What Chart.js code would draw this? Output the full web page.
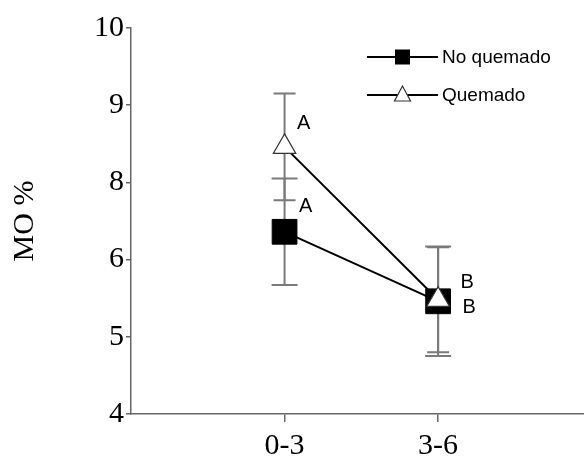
<!DOCTYPE html>
<html>
<head>
<meta charset="utf-8">
<script src="https://cdn.jsdelivr.net/npm/chart.js@4.4.0/dist/chart.umd.min.js"></script>
<style>
  html, body { margin: 0; padding: 0; background: #fff; overflow: hidden; }
  #wrap { width: 584px; height: 459px; position: relative; }
  canvas { display: block; }
</style>
</head>
<body>
<div id="wrap"><canvas id="chart"></canvas></div>
<script>
// Data (y in axis units, 6 evenly spaced ticks)
const depths = ['0-3', '3-6'];
const noQuemado = [6.36, 5.46];
const noQuemadoErr = [0.69, 0.71];
const quemado = [7.46, 5.48];
const quemadoErr = [0.69, 0.68];
const yTickLabels = ['4', '5', '6', '8', '9', '10']; // labels as printed on the axis
const sigNoQuemado = ['A', 'B'];
const sigQuemado = ['A', 'B'];

const serif = '"Liberation Serif", "Times New Roman", serif';
const sans = '"Liberation Sans", Arial, sans-serif';

// error bars under the points
const errorBars = {
  id: 'errorBars',
  beforeDatasetsDraw(chart) {
    const { ctx, scales: { x, y } } = chart;
    const sets = [[noQuemado, noQuemadoErr, 13], [quemado, quemadoErr, 11]];
    ctx.save();
    ctx.strokeStyle = '#7a7a7a';
    ctx.lineWidth = 2;
    sets.forEach(([vals, errs, half]) => {
      vals.forEach((v, i) => {
        const px = x.getPixelForValue(i + 1);
        const top = y.getPixelForValue(v + errs[i]);
        const bot = y.getPixelForValue(v - errs[i]);
        ctx.beginPath();
        ctx.moveTo(px, top); ctx.lineTo(px, bot);
        ctx.moveTo(px - half, top); ctx.lineTo(px + half, top);
        ctx.moveTo(px - half, bot); ctx.lineTo(px + half, bot);
        ctx.stroke();
      });
    });
    ctx.restore();
  }
};

// significance letters next to the points
const letters = {
  id: 'letters',
  afterDatasetsDraw(chart) {
    const { ctx, scales: { x, y } } = chart;
    ctx.save();
    ctx.font = '20px ' + sans;
    ctx.fillStyle = '#000';
    ctx.textAlign = 'center';
    ctx.textBaseline = 'middle';
    // offsets from the point, per depth
    const qOff = [[19, -23], [29, -17]];
    const nOff = [[21, -25], [31, 6]];
    quemado.forEach((v, i) => {
      ctx.fillText(sigQuemado[i], x.getPixelForValue(i + 1) + qOff[i][0], y.getPixelForValue(v) + qOff[i][1]);
    });
    noQuemado.forEach((v, i) => {
      ctx.fillText(sigNoQuemado[i], x.getPixelForValue(i + 1) + nOff[i][0], y.getPixelForValue(v) + nOff[i][1]);
    });
    ctx.restore();
  }
};

// legend: line with marker in the middle
const lineLegend = {
  id: 'lineLegend',
  afterDraw(chart) {
    const { ctx, chartArea } = chart;
    const x0 = chartArea.left + 236, x1 = chartArea.left + 307, mx = (x0 + x1) / 2;
    const rows = [
      { label: 'No quemado', y: 57, style: 'rect' },
      { label: 'Quemado', y: 95, style: 'triangle' }
    ];
    ctx.save();
    rows.forEach(r => {
      ctx.strokeStyle = '#000';
      ctx.lineWidth = 2;
      ctx.beginPath();
      ctx.moveTo(x0, r.y); ctx.lineTo(x1, r.y);
      ctx.stroke();
      if (r.style === 'rect') {
        ctx.fillStyle = '#000';
        ctx.fillRect(mx - 7.5, r.y - 7.5, 15, 15);
      } else {
        ctx.fillStyle = '#fff';
        ctx.strokeStyle = '#333';
        ctx.lineWidth = 1.2;
        ctx.beginPath();
        ctx.moveTo(mx, r.y - 9);
        ctx.lineTo(mx + 8, r.y + 6);
        ctx.lineTo(mx - 8, r.y + 6);
        ctx.closePath();
        ctx.fill();
        ctx.stroke();
      }
      ctx.fillStyle = '#000';
      ctx.font = '19px ' + sans;
      ctx.textAlign = 'left';
      ctx.textBaseline = 'middle';
      ctx.fillText(r.label, x1 + 4, r.y + 1);
    });
    ctx.restore();
  }
};

const ctx = document.getElementById('chart').getContext('2d');
const chart = new Chart(ctx, {
  type: 'line',
  data: {
    datasets: [{
      label: 'Quemado',
      data: quemado.map((v, i) => ({ x: i + 1, y: v })),
      borderColor: '#000',
      borderWidth: 2,
      pointStyle: 'triangle',
      pointRadius: 13,
      pointBackgroundColor: '#fff',
      pointBorderColor: '#333',
      pointBorderWidth: 1.2,
      order: 1
    }, {
      label: 'No quemado',
      data: noQuemado.map((v, i) => ({ x: i + 1, y: v })),
      borderColor: '#000',
      borderWidth: 2,
      pointStyle: 'rect',
      pointRadius: 17.5,
      pointBackgroundColor: '#000',
      pointBorderColor: '#000',
      pointBorderWidth: 1,
      order: 2
    }]
  },
  options: {
    responsive: true,
    maintainAspectRatio: false,
    animation: false,
    devicePixelRatio: 1,
    layout: { autoPadding: false, padding: { top: 28, right: 0, bottom: 0, left: 0 } },
    plugins: {
      legend: { display: false },
      tooltip: { enabled: false }
    },
    scales: {
      x: {
        type: 'linear',
        min: 0,
        max: 2.95,
        afterBuildTicks: scale => { scale.ticks = depths.map((d, i) => ({ value: i + 1 })); },
        afterFit: scale => { scale.height = 45; },
        grid: { display: true, drawOnChartArea: false, tickLength: 8, color: '#666', lineWidth: 1.5 },
        border: { color: '#666', width: 1.5 },
        ticks: {
          callback: v => depths[v - 1],
          color: '#000',
          font: { family: serif, size: 30 },
          padding: 6,
          maxRotation: 0
        }
      },
      y: {
        min: 4,
        max: 9,
        afterFit: scale => { scale.width = 131; },
        grid: { display: true, drawOnChartArea: false, tickLength: 5, color: '#666', lineWidth: 1.5 },
        border: { color: '#666', width: 1.5 },
        ticks: {
          stepSize: 1,
          callback: v => yTickLabels[v - 4],
          color: '#000',
          font: { family: serif, size: 30 },
          padding: 2
        },
        title: {
          display: true,
          text: 'MO %',
          color: '#000',
          font: { family: serif, size: 30 },
          padding: { top: 7, bottom: 0 }
        }
      }
    }
  },
  plugins: [errorBars, letters, lineLegend]
});
</script>
</body>
</html>
